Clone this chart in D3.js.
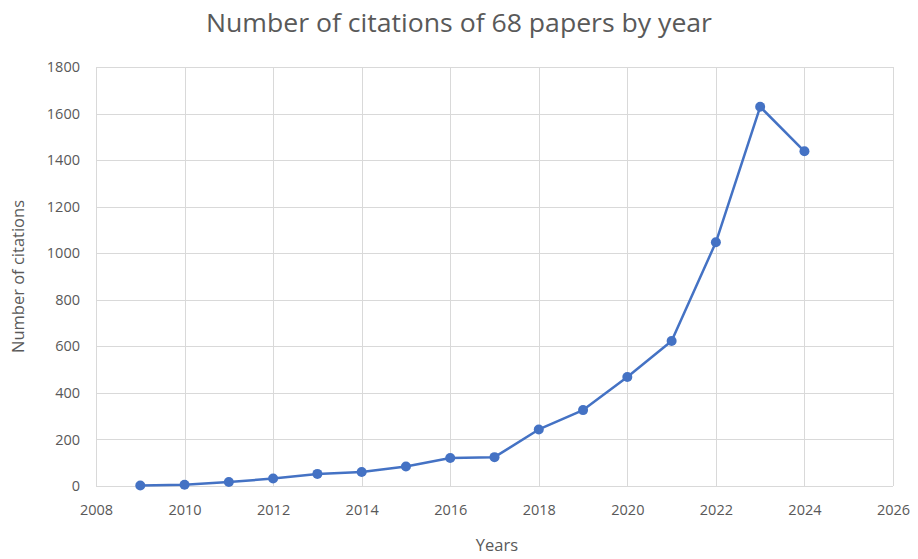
<!DOCTYPE html>
<html>
<head>
	<meta charset="utf-8">
	<script type="text/javascript" src="https://cdn.jsdelivr.net/npm/d3@7"></script>
	<style type="text/css">
		body { margin: 0; background: #fff; }
		.axis text {
			font-family: "Open Sans", sans-serif;
			font-size: 14.5px;
			fill: #595959;
		}
		.grid line { stroke: #d9d9d9; stroke-width: 1; shape-rendering: crispEdges; }
		.title { font-family: "Open Sans", sans-serif; font-size: 26px; fill: #595959; text-anchor: middle; }
		.axtitle { font-family: "Open Sans", sans-serif; font-size: 16.5px; fill: #595959; text-anchor: middle; }
	</style>
</head>
<body>
<script type="text/javascript">
	var width = 918;
	var height = 559;

	// data
	var years = [2009, 2010, 2011, 2012, 2013, 2014, 2015, 2016, 2017, 2018, 2019, 2020, 2021, 2022, 2023, 2024];
	var citations = [2, 5, 17, 32, 52, 60, 84, 120, 124, 243, 326, 468, 623, 1047, 1629, 1438];
	var xTicks = [2008, 2010, 2012, 2014, 2016, 2018, 2020, 2022, 2024, 2026];
	var yTicks = [0, 200, 400, 600, 800, 1000, 1200, 1400, 1600, 1800];

	var padding = {left: 96, right: 25, top: 67, bottom: 73};

	var xscale = d3.scaleLinear()
		.domain([2008, 2026])
		.range([padding.left, width - padding.right]);
	var yscale = d3.scaleLinear()
		.domain([0, 1800])
		.range([height - padding.bottom, padding.top]);

	var svg = d3.select("body")
		.append("svg")
		.attr("width", width)
		.attr("height", height);

	// gridlines
	var grid = svg.append("g").attr("class", "grid");
	grid.selectAll(".h")
		.data(yTicks)
		.enter()
		.append("line")
		.attr("x1", xscale(2008))
		.attr("x2", xscale(2026))
		.attr("y1", function(d){ return Math.round(yscale(d)) + 0.5; })
		.attr("y2", function(d){ return Math.round(yscale(d)) + 0.5; });
	grid.selectAll(".v")
		.data(xTicks)
		.enter()
		.append("line")
		.attr("y1", yscale(0))
		.attr("y2", yscale(1800))
		.attr("x1", function(d){ return Math.round(xscale(d)) + 0.5; })
		.attr("x2", function(d){ return Math.round(xscale(d)) + 0.5; });

	// axes (labels only)
	var xAxis = d3.axisBottom(xscale)
		.tickValues(xTicks)
		.tickFormat(d3.format("d"))
		.tickSize(0)
		.tickPadding(19);
	var yAxis = d3.axisLeft(yscale)
		.tickValues(yTicks)
		.tickFormat(d3.format("d"))
		.tickSize(0)
		.tickPadding(16);

	svg.append("g")
		.attr("class", "axis")
		.attr("transform", "translate(0," + yscale(0) + ")")
		.call(xAxis)
		.call(function(g){ g.select(".domain").remove(); });
	svg.append("g")
		.attr("class", "axis")
		.attr("transform", "translate(" + xscale(2008) + ",0)")
		.call(yAxis)
		.call(function(g){ g.select(".domain").remove(); });

	// line
	var line = d3.line()
		.x(function(d, i){ return xscale(years[i]); })
		.y(function(d){ return yscale(d); });

	svg.append("path")
		.datum(citations)
		.attr("d", line)
		.attr("fill", "none")
		.attr("stroke", "#4472c4")
		.attr("stroke-width", 2.5)
		.attr("stroke-linejoin", "round");

	svg.selectAll(".dot")
		.data(citations)
		.enter()
		.append("circle")
		.attr("class", "dot")
		.attr("cx", function(d, i){ return xscale(years[i]); })
		.attr("cy", function(d){ return yscale(d); })
		.attr("r", 5)
		.attr("fill", "#4472c4");

	// titles
	svg.append("text")
		.attr("class", "title")
		.attr("x", 459)
		.attr("y", 32)
		.attr("textLength", 506)
		.attr("lengthAdjust", "spacingAndGlyphs")
		.text("Number of citations of 68 papers by year");

	svg.append("text")
		.attr("class", "axtitle")
		.attr("x", 497)
		.attr("y", 551)
		.text("Years");

	svg.append("text")
		.attr("class", "axtitle")
		.attr("transform", "translate(24," + ((yscale(0) + yscale(1800)) / 2) + ") rotate(-90)")
		.text("Number of citations");
</script>
</body>
</html>
